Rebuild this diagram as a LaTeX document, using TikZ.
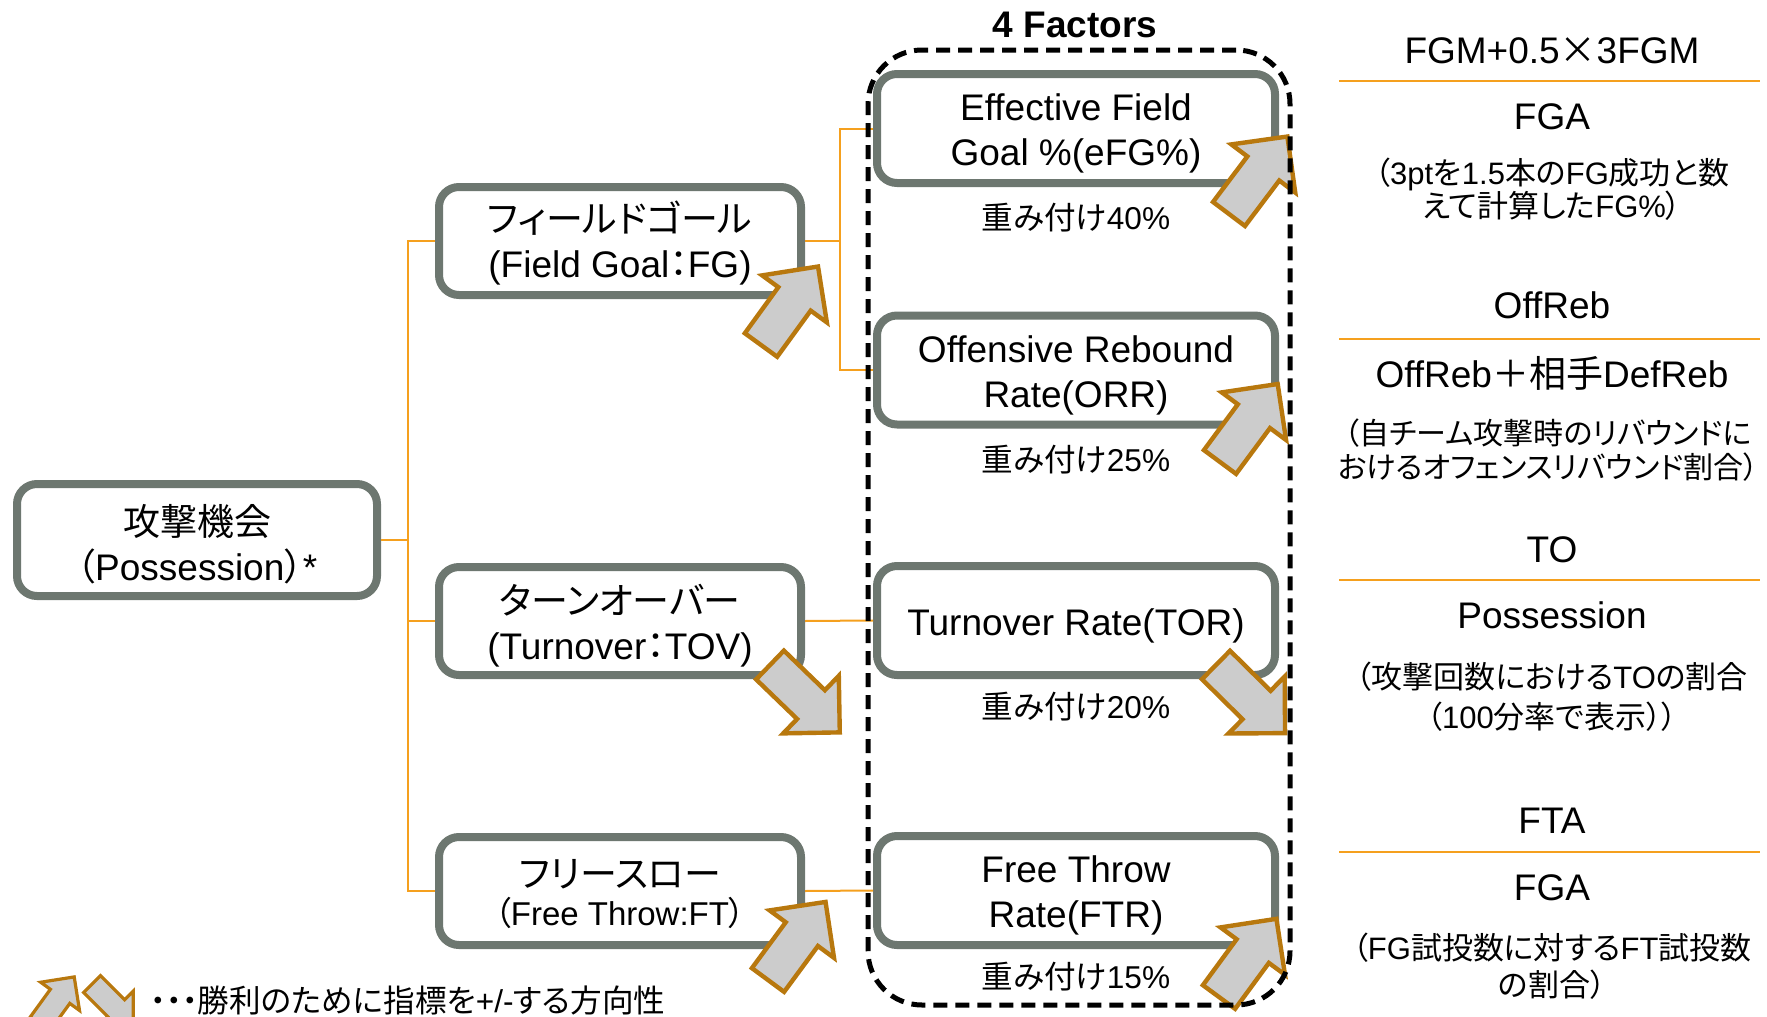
\documentclass[tikz,border=0pt]{standalone}
\usepackage{fontspec}
\setmainfont{Liberation Sans}
\newfontfamily\jpprop[RawFeature={+palt}]{Noto Sans CJK JP}
\newfontfamily\jpfixed{Noto Sans CJK JP}
\newcommand{\jtext}[1]{{\jpprop #1}}
\newcommand{\jfix}[1]{{\jpfixed #1}}
% struts fixing the height above the first baseline and the depth below the last one
\newcommand{\tophold}[1]{\rule{0pt}{#1}}
\newcommand{\bothold}{\rule[-8pt]{0pt}{8pt}}
\definecolor{boxgray}{RGB}{109,119,112}
\definecolor{linkorange}{RGB}{245,160,30}
\definecolor{arrowbrown}{RGB}{184,120,14}
\definecolor{arrowfill}{RGB}{204,204,204}
\newcommand{\fatarrow}[4]{%
  \begin{scope}[shift={(#1,#2)},rotate=#3,scale=#4]
    \draw[fatarr] (0,-20) -- (57,-20) -- (57,-40) -- (97,0) -- (57,40) -- (57,20) -- (0,20) -- cycle;
  \end{scope}}
\begin{document}
\begin{tikzpicture}[x=0.5pt,y=-0.5pt,
  box/.style={draw=boxgray, line width=4pt, rounded corners=10pt, fill=white, align=center, inner sep=0pt},
  lbox/.style={box, minimum width=181pt, minimum height=54pt, font=\fontsize{18.5}{22.5}\selectfont},
  cbox/.style={box, minimum width=199pt, minimum height=54.5pt, font=\fontsize{18.5}{22.5}\selectfont},
  link/.style={draw=linkorange, line width=1pt},
  fracline/.style={draw=linkorange, line width=1.4pt},
  big/.style={font=\fontsize{18.5}{22}\selectfont, inner sep=0pt, anchor=base},
  note/.style={font=\fontsize{15.5}{17}\selectfont, align=center, inner sep=0pt},
  weight/.style={font=\fontsize{15.8}{18}\selectfont, inner sep=0pt},
  fatarr/.style={draw=arrowbrown, fill=arrowfill, line width=2.2pt, line join=miter},
]
\useasboundingbox (0,0) rectangle (1767,1017);

% left column
\node[lbox, minimum width=180pt, minimum height=51pt] (poss) at (197,540)
  {\tophold{25.5pt}\jtext{攻撃機会}\\\jtext{（}Possession\jtext{）}*\bothold};
\node[lbox] (fg) at (620,241)
  {\tophold{21.5pt}\jtext{フィールドゴール}\\(Field Goal\jtext{：}FG)\bothold};
\node[lbox] (tov) at (620,621)
  {\tophold{23.5pt}\jtext{ターンオーバー}\\(Turnover\jtext{：}TOV)\bothold};
\node[lbox, font=\fontsize{18.5}{19}\selectfont] (ft) at (620,891)
  {\tophold{23pt}\jtext{フリースロー}\\{\fontsize{16.5}{19}\selectfont\jtext{（}Free Throw:FT\jtext{）}}\bothold};

% four factors
\node[cbox] (efg) at (1076,128.5) {\tophold{22pt}Effective Field\\Goal \%(eFG\%)\bothold};
\node[cbox] (orr) at (1076,370) {\tophold{22.5pt}Offensive Rebound\\Rate(ORR)\bothold};
\node[cbox] (tor) at (1076,620.5) {\tophold{22.5pt}Turnover Rate(TOR)\bothold};
\node[cbox] (ftr) at (1076,890.5) {\tophold{22pt}Free Throw\\Rate(FTR)\bothold};

\node[weight] (w1) at (1076,218) {\jtext{重み付け}40\%};
\node[weight] (w2) at (1076,460) {\jtext{重み付け}25\%};
\node[weight] (w3) at (1076,707) {\jtext{重み付け}20\%};
\node[weight] (w4) at (1076,977) {\jtext{重み付け}15\%};

% connectors
\coordinate (j1) at (408,540);
\coordinate (j2) at (840,241);
\draw[link] (poss.east) -- (j1);
\draw[link] (j1) |- (fg.west);
\draw[link] (j1) |- (tov.west);
\draw[link] (j1) |- (ft.west);
\draw[link] (fg.east) -- (j2);
\draw[link] (j2) |- (efg.west);
\draw[link] (j2) |- (orr.west);
\draw[link] (tov.east) -- (tor.west);
\draw[link] (ft.east) -- (ftr.west);

% direction arrows
\fatarrow{761}{345}{54}{1}
\fatarrow{1229}{214}{53}{1}
\fatarrow{1220}{462}{53.5}{1}
\fatarrow{768}{980}{53.6}{1}
\fatarrow{1219}{997}{53.7}{1}
\fatarrow{770}{665}{-44}{1}
\fatarrow{1216}{665}{-44.6}{1}

% frame and title
\node[draw, line width=2.5pt, dash pattern=on 7pt off 4pt, rounded corners=27pt, minimum width=211pt, minimum height=477.5pt, inner sep=0pt] (factors) at (1079,527.5) {};
\node[font=\bfseries\fontsize{18.5}{22}\selectfont, inner sep=0pt, anchor=base] (title) at (1075,38) {4 Factors};

% right column formulas
\node[big] (f1n) at (1552,63) {FGM+0.5\jfix{×}3FGM};
\draw[fracline] (1339,81) -- (1760,81);
\node[big] (f1d) at (1552,129) {FGA};
\node[note, font=\fontsize{15.5}{16.75}\selectfont] (f1c) at (1552,189) {\jtext{（}3pt\jtext{を}1.5\jtext{本の}FG\jtext{成功と数}\\\jtext{えて計算した}FG\%\jtext{）}};

\node[big] (f2n) at (1552,318) {OffReb};
\draw[fracline] (1339,339) -- (1760,339);
\node[big] (f2d) at (1552,387) {OffReb\jfix{＋相手}DefReb};
\node[note, font=\fontsize{15}{17}\selectfont] (f2c) at (1548,450) {\jtext{（自チーム攻撃時のリバウンドに}\\\jtext{おけるオフェンスリバウンド割合）}};

\node[big] (f3n) at (1552,562) {TO};
\draw[fracline] (1339,580) -- (1760,580);
\node[big] (f3d) at (1552,628) {Possession};
\node[note, font=\fontsize{15.5}{20}\selectfont] (f3c) at (1552,697) {\jtext{（攻撃回数における}TO\jtext{の割合}\\\jtext{（}100\jtext{分率で表示））}};

\node[big] (f4n) at (1552,833) {FTA};
\draw[fracline] (1339,852) -- (1760,852);
\node[big] (f4d) at (1552,900) {FGA};
\node[note, font=\fontsize{15.5}{18.5}\selectfont] (f4c) at (1552,966) {\jtext{（}FG\jtext{試投数に対する}FT\jtext{試投数}\\\jtext{の割合）}};

% legend
\begin{scope}
\tikzset{fatarr/.append style={line width=1.6pt}}
\fatarrow{40}{1024}{54}{0.6}
\fatarrow{92}{984}{-45}{0.6}
\end{scope}
\node[font=\fontsize{15.8}{18}\selectfont, anchor=west, inner sep=0pt] (legend) at (150,1000) {\jtext{・・・勝利のために指標を}+/-\jtext{する方向性}};
\end{tikzpicture}
\end{document}
